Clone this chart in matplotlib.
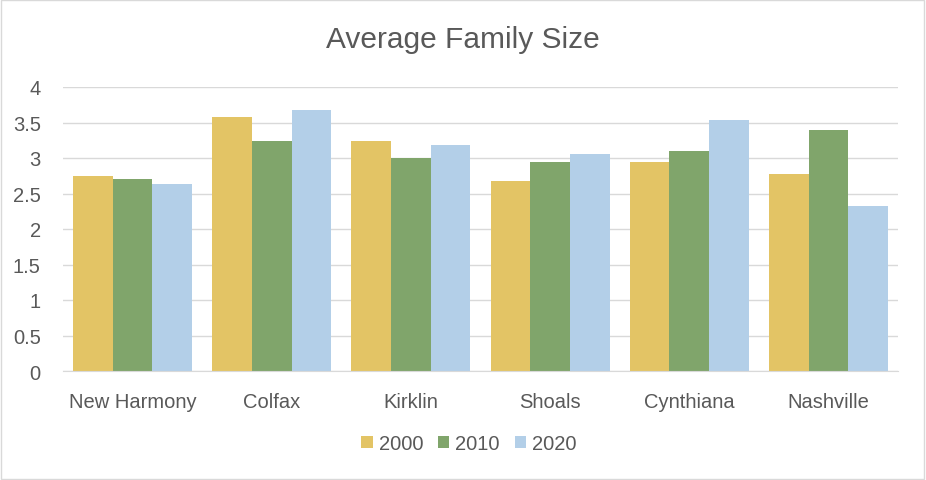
import matplotlib
matplotlib.use("Agg")
import matplotlib.pyplot as plt
import numpy as np

towns = ["New Harmony", "Colfax", "Kirklin", "Shoals", "Cynthiana", "Nashville"]
size_2000 = [2.74, 3.58, 3.24, 2.67, 2.94, 2.77]
size_2010 = [2.70, 3.24, 3.00, 2.94, 3.10, 3.39]
size_2020 = [2.63, 3.68, 3.19, 3.06, 3.53, 2.32]
years = ["2000", "2010", "2020"]
colors = ["#E3C465", "#80A56B", "#B3CFE8"]

plt.rcParams["font.family"] = ["Liberation Sans", "DejaVu Sans"]

fig = plt.figure(figsize=(9.26, 4.81), dpi=100)
ax = fig.add_axes([63 / 926, 1 - 372 / 481, (898 - 63) / 926, (372 - 88) / 481])

x = np.arange(len(towns))
w = 0.285
for i, (vals, label, c) in enumerate(zip([size_2000, size_2010, size_2020], years, colors)):
    ax.bar(x + (i - 1) * w, vals, width=w, color=c, label=label, zorder=2)

ax.set_xlim(-0.5, len(towns) - 0.5)
ax.set_ylim(0, 4)
ax.set_yticks(np.arange(0, 4.01, 0.5))
ax.set_yticklabels(["0", "0.5", "1", "1.5", "2", "2.5", "3", "3.5", "4"])
ax.set_xticks(x)
ax.set_xticklabels(towns)
ax.yaxis.grid(True, color="#D9D9D9", linewidth=1, zorder=0)
for s in ["top", "right", "left"]:
    ax.spines[s].set_visible(False)
ax.spines["bottom"].set_color("#D9D9D9")
ax.tick_params(axis="both", length=0, labelsize=14.5, colors="#595959")
ax.tick_params(axis="x", pad=15)
ax.tick_params(axis="y", pad=16)

fig.suptitle("Average Family Size", y=1 - 40 / 481, va="center", fontsize=21.5, color="#595959")
fig.legend(loc="center", bbox_to_anchor=(469 / 926, 1 - 445 / 481), ncol=3, frameon=False,
           fontsize=14.5, labelcolor="#595959", handlelength=0.55, handleheight=0.55,
           handletextpad=0.3, columnspacing=0.75)

fig.patches.append(plt.Rectangle((0.001, 0.002), 0.997, 0.996, transform=fig.transFigure,
                                 fill=False, edgecolor="#D9D9D9", linewidth=1))

fig.savefig("out.png", dpi=100)
